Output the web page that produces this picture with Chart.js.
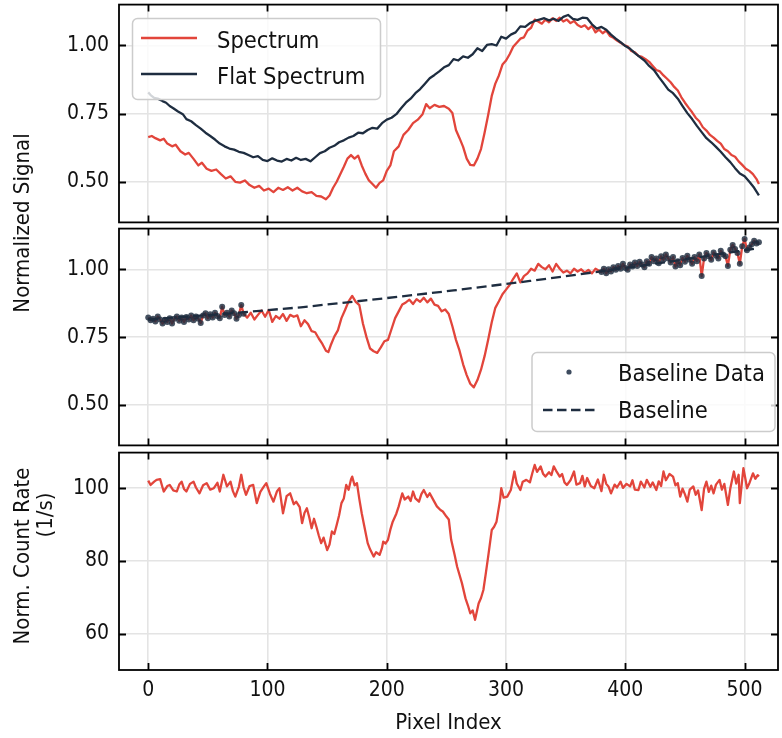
<!DOCTYPE html>
<html>
<head>
<meta charset="utf-8">
<script src="https://cdn.jsdelivr.net/npm/chart.js@4.4.0/dist/chart.umd.min.js"></script>
<style>
  body { margin: 0; width: 782px; height: 738px; position: relative; background: #fff; overflow: hidden; }
  canvas { position: absolute; left: 0; }
  svg { position: absolute; left: 0; top: 0; pointer-events: none; }
  svg text { font-family: 'DejaVu Sans Condensed', 'Open Sans', sans-serif; fill: #111; }
</style>
</head>
<body>
<canvas id="top" width="782" height="226" style="top:0px"></canvas>
<canvas id="mid" width="782" height="223" style="top:226px"></canvas>
<canvas id="bot" width="782" height="289" style="top:449px"></canvas>

<svg width="782" height="738">
  <!-- legend, top panel -->
  <rect x="132.5" y="18.5" width="248" height="81" rx="5" fill="rgba(255,255,255,0.8)" stroke="#cccccc" stroke-width="1.5"/>
  <line x1="141" y1="38" x2="197" y2="38" stroke="#e2453b" stroke-width="2.4"/>
  <line x1="141" y1="74" x2="197" y2="74" stroke="#1e2d40" stroke-width="2.4"/>
  <text x="217" y="47.5" font-size="23.5">Spectrum</text>
  <text x="217" y="84" font-size="23.5">Flat Spectrum</text>

  <!-- legend, middle panel -->
  <rect x="532" y="352.5" width="243" height="79" rx="5" fill="rgba(255,255,255,0.8)" stroke="#cccccc" stroke-width="1.5"/>
  <circle cx="569" cy="372" r="2.6" fill="#3d4b5e"/>
  <line x1="543" y1="410" x2="595" y2="410" stroke="#1e2d40" stroke-width="2.4" stroke-dasharray="9.5,4.5"/>
  <text x="618" y="381" font-size="23.5">Baseline Data</text>
  <text x="618" y="418" font-size="23.5">Baseline</text>

  <!-- axis titles -->
  <text transform="translate(29,223) rotate(-90)" text-anchor="middle" font-size="22">Normalized Signal</text>
  <text transform="translate(29,556) rotate(-90)" text-anchor="middle" font-size="22">Norm. Count Rate</text>
  <text transform="translate(52,515) rotate(-90)" text-anchor="middle" font-size="22">(1/s)</text>
  <text x="448.5" y="729" text-anchor="middle" font-size="22">Pixel Index</text>
</svg>

<script>
// tick labels
var xTicks = [0, 100, 200, 300, 400, 500];
var signalTicks = [0.5, 0.75, 1.0];
var countTicks = [60, 80, 100];

// top panel: Spectrum
var specX = [0,3,6,10,13,16,20,23,27,31,34,38,42,45,49,53,57,61,65,69,73,77,81,85,89,93,97,101,105,109,113,117,121,125,129,133,137,141,145,149,152,155,158,161,164,167,170,173,176,179,182,185,188,191,194,197,200,203,206,210,214,218,222,226,230,233,236,240,244,248,252,255,258,261,264,267,270,273,276,279,282,285,288,291,294,297,300,303,306,309,312,315,318,321,324,327,330,333,336,339,342,345,348,351,354,357,360,363,366,369,372,375,378,381,384,387,390,393,396,399,402,405,408,411,414,417,420,423,426,429,432,435,438,441,444,447,450,453,456,459,462,465,468,471,474,477,480,483,486,489,492,495,498,501,504,507,510,512];
var specY = [0.664,0.668,0.660,0.652,0.658,0.640,0.630,0.636,0.612,0.600,0.606,0.584,0.560,0.570,0.548,0.540,0.545,0.528,0.512,0.520,0.500,0.497,0.505,0.488,0.478,0.485,0.468,0.475,0.462,0.478,0.470,0.480,0.468,0.478,0.465,0.458,0.462,0.448,0.446,0.436,0.450,0.478,0.500,0.528,0.555,0.585,0.598,0.585,0.596,0.560,0.530,0.505,0.492,0.478,0.496,0.505,0.540,0.560,0.612,0.630,0.672,0.690,0.715,0.728,0.748,0.785,0.770,0.782,0.775,0.778,0.768,0.752,0.690,0.660,0.628,0.585,0.562,0.560,0.585,0.620,0.680,0.745,0.815,0.860,0.890,0.930,0.945,0.968,0.995,1.010,1.025,1.030,1.055,1.065,1.095,1.088,1.080,1.095,1.085,1.100,1.090,1.102,1.088,1.095,1.082,1.090,1.075,1.068,1.074,1.060,1.072,1.048,1.058,1.045,1.055,1.035,1.028,1.018,1.010,1.002,0.996,0.980,0.975,0.962,0.958,0.950,0.940,0.925,0.910,0.905,0.890,0.878,0.865,0.848,0.835,0.810,0.790,0.772,0.755,0.735,0.722,0.700,0.688,0.672,0.662,0.650,0.640,0.620,0.612,0.598,0.592,0.575,0.562,0.548,0.540,0.528,0.510,0.492];

// top panel: Flat Spectrum
var flatX = [0,2,5,8,12,15,18,21,25,29,32,36,40,44,48,52,56,60,64,68,72,76,80,84,88,92,96,100,104,108,112,116,120,124,128,132,136,140,144,148,152,156,160,164,168,172,176,180,184,188,192,196,200,204,208,212,216,220,224,228,232,236,240,244,248,252,256,260,264,268,272,276,280,284,288,292,296,300,304,308,312,316,320,324,328,332,336,340,344,348,352,356,360,364,368,372,376,380,384,388,392,396,400,404,408,412,416,420,424,428,432,436,440,444,448,452,456,460,464,468,472,476,480,484,488,492,496,500,504,508,512];
var flatY = [0.828,0.818,0.808,0.805,0.796,0.790,0.778,0.770,0.758,0.748,0.730,0.722,0.708,0.695,0.680,0.668,0.655,0.640,0.630,0.622,0.618,0.610,0.606,0.598,0.590,0.594,0.580,0.576,0.586,0.578,0.574,0.584,0.578,0.588,0.580,0.584,0.575,0.590,0.605,0.612,0.625,0.632,0.645,0.652,0.662,0.668,0.680,0.678,0.690,0.698,0.695,0.715,0.728,0.735,0.748,0.770,0.790,0.805,0.825,0.840,0.860,0.880,0.892,0.905,0.920,0.928,0.950,0.945,0.960,0.955,0.968,0.990,0.980,1.002,1.005,1.000,1.032,1.025,1.040,1.048,1.070,1.068,1.082,1.090,1.095,1.100,1.092,1.098,1.090,1.105,1.112,1.098,1.094,1.102,1.100,1.078,1.062,1.068,1.058,1.040,1.025,1.012,0.998,0.988,0.972,0.958,0.945,0.925,0.910,0.885,0.862,0.838,0.825,0.805,0.778,0.752,0.730,0.705,0.682,0.660,0.645,0.628,0.610,0.590,0.572,0.550,0.530,0.520,0.500,0.478,0.450];

// middle panel: ratio, split where the baseline points were taken
var leftX = [0,2,4,6,8,10,12,14,16,18,20,22,24,26,28,30,32,34,36,38,40,42,44,46,48,50,52,54,56,58,60,62,64,66,68,70,72,74,76,78,80];
var leftY = [0.822,0.812,0.818,0.808,0.826,0.815,0.800,0.814,0.806,0.820,0.800,0.818,0.826,0.810,0.822,0.806,0.824,0.815,0.830,0.812,0.826,0.818,0.802,0.830,0.838,0.820,0.834,0.822,0.840,0.828,0.820,0.862,0.832,0.840,0.826,0.848,0.838,0.818,0.832,0.868,0.836];
var midX = [83,86,89,92,95,98,101,104,107,110,113,116,119,122,125,128,131,134,137,140,143,146,149,151,153,156,159,162,165,168,171,174,177,180,183,186,189,192,195,198,201,204,207,210,213,216,219,222,225,228,231,234,237,240,243,246,249,252,255,258,261,264,267,270,273,276,279,282,285,288,291,294,297,300,303,306,309,312,315,318,321,324,327,330,333,336,339,342,345,348,351,354,357,360,363,366,369,372,375,378];
var midY = [0.822,0.840,0.815,0.832,0.848,0.825,0.850,0.806,0.828,0.818,0.835,0.810,0.832,0.825,0.830,0.790,0.812,0.798,0.772,0.768,0.745,0.725,0.700,0.695,0.720,0.752,0.775,0.820,0.850,0.882,0.902,0.880,0.868,0.800,0.750,0.708,0.698,0.692,0.712,0.735,0.740,0.780,0.820,0.845,0.870,0.878,0.888,0.872,0.890,0.880,0.895,0.878,0.892,0.870,0.865,0.845,0.852,0.835,0.790,0.740,0.700,0.650,0.610,0.578,0.565,0.592,0.630,0.680,0.740,0.805,0.858,0.882,0.908,0.925,0.942,0.965,0.985,0.952,0.975,0.985,1.002,0.995,1.020,1.008,1.000,1.015,0.992,1.020,1.002,0.988,0.995,0.985,1.002,0.992,1.000,0.988,0.998,0.985,1.002,0.995];
var rightX = [380,382,384,386,388,390,392,394,396,398,400,402,404,406,408,410,412,414,416,418,420,422,424,426,428,430,432,434,436,438,440,442,444,446,448,450,452,454,456,458,460,462,464,466,468,470,472,474,476,478,480,482,484,486,488,490,492,494,496,498,500,502,504,506,508,510,512];
var rightY = [0.990,1.002,0.985,1.000,0.992,1.008,0.998,1.012,1.002,1.020,1.005,0.998,1.018,1.010,1.025,1.012,1.028,1.018,1.008,1.030,1.020,1.045,1.030,1.040,1.022,1.048,1.035,1.055,1.040,1.025,1.045,1.010,1.030,1.015,1.042,1.028,1.050,1.035,1.020,1.045,1.030,1.055,0.975,1.040,1.060,1.048,1.035,1.062,1.050,1.040,1.068,1.055,1.048,1.012,1.072,1.090,1.075,1.060,1.020,1.085,1.112,1.070,1.080,1.092,1.105,1.095,1.100];

// middle panel: fitted baseline
var fitX = [0,64,128,192,256,320,384,448,512];
var fitY = [0.815,0.836,0.860,0.890,0.922,0.957,0.995,1.035,1.078];

// bottom panel: normalized count rate
var countX = [0,2,5,7,10,12,13,16,18,21,24,26,28,30,32,35,38,40,43,46,49,52,55,58,60,63,66,69,71,73,76,78,80,82,85,88,91,94,97,99,102,105,108,110,113,116,119,122,124,127,129,131,133,135,137,139,141,143,145,147,150,152,154,156,158,160,162,164,166,168,170,171,173,175,177,179,181,184,186,189,191,194,196,197,199,201,203,205,208,210,213,215,218,220,222,224,227,229,231,234,236,239,242,245,247,250,252,254,257,259,263,266,268,270,272,274,277,279,281,283,285,288,290,292,295,296,298,301,304,307,309,312,314,317,320,322,324,326,329,331,333,336,338,340,342,345,347,349,351,354,357,359,362,364,366,368,371,374,377,380,382,384,386,388,391,393,396,398,401,404,406,408,411,413,416,418,421,423,426,428,430,432,434,437,440,442,444,446,448,450,452,454,457,459,461,464,466,468,470,472,474,476,479,481,483,486,488,491,493,495,496,498,499,501,502,504,507,509,511,512];
var countY = [102.1,100.9,101.8,102.3,102.5,100.2,99.1,100.6,100.9,99.4,99.1,101.0,101.8,99.8,99.1,101.2,101.8,100.2,98.6,100.8,101.4,99.6,100.0,101.5,99.1,103.7,100.5,101.8,99.2,97.7,100.4,103.7,100.2,98.2,100.6,100.9,95.9,99.0,100.5,101.4,98.5,96.3,99.2,100.0,93.1,97.8,98.6,95.6,96.3,94.8,90.4,93.2,94.5,92.0,89.0,91.6,89.4,87.0,84.9,86.4,83.0,84.5,88.1,87.4,89.9,92.5,95.9,97.2,100.9,99.6,102.4,103.2,100.8,101.4,97.0,93.1,89.8,84.9,83.2,81.2,82.4,81.7,83.6,85.3,84.8,85.8,88.6,90.8,93.0,95.0,98.6,96.9,97.7,96.5,99.1,97.2,96.3,98.4,99.5,97.6,98.6,96.8,95.0,94.0,93.6,92.2,91.4,85.8,81.5,78.4,73.9,69.7,67.8,65.6,66.4,63.8,68.3,69.8,72.0,76.5,81.2,88.5,89.4,90.8,96.8,100.0,97.4,97.7,99.5,104.6,101.3,99.5,101.8,102.3,101.6,104.1,106.4,104.5,106.0,104.0,103.2,104.4,103.6,106.0,104.8,103.2,103.9,101.6,100.9,102.2,104.6,101.0,101.4,103.4,100.5,102.8,100.6,100.0,102.4,99.2,103.7,101.2,100.4,98.6,101.0,100.2,101.8,100.1,101.2,100.5,102.2,99.6,99.5,101.8,100.2,102.3,100.4,101.6,99.5,101.9,100.6,104.6,102.2,103.9,103.2,100.8,101.4,97.7,99.9,98.3,96.3,99.6,100.5,98.2,99.4,94.0,99.8,101.8,99.0,100.7,98.6,101.0,102.3,99.6,101.2,95.4,99.9,104.6,101.3,103.7,95.9,102.4,105.5,102.0,100.0,101.4,104.1,102.6,103.6,103.2];

var RED = '#e2453b';
var NAVY = '#1e2d40';

function pts(xs, ys) {
    return xs.map(function (x, i) { return {x: x, y: ys[i]}; });
}

Chart.defaults.font.family = "'DejaVu Sans Condensed', 'Open Sans', sans-serif";
Chart.defaults.font.size = 21;
Chart.defaults.color = '#111';

// black box round each panel with inward ticks on all four sides
var frame = {
    id: 'frame',
    afterDraw: function (chart) {
        var a = chart.chartArea, c = chart.ctx;
        var sx = chart.scales.x, sy = chart.scales.y;
        var len = 7;
        c.save();
        c.strokeStyle = '#000';
        c.lineWidth = 1.8;
        c.strokeRect(a.left, a.top, a.right - a.left, a.bottom - a.top);
        c.beginPath();
        xTicks.forEach(function (v) {
            var px = Math.round(sx.getPixelForValue(v)) + 0.5;
            c.moveTo(px, a.top); c.lineTo(px, a.top + len);
            c.moveTo(px, a.bottom); c.lineTo(px, a.bottom - len);
        });
        sy.ticks.forEach(function (t) {
            var py = Math.round(sy.getPixelForValue(t.value)) + 0.5;
            c.moveTo(a.left, py); c.lineTo(a.left + len, py);
            c.moveTo(a.right, py); c.lineTo(a.right - len, py);
        });
        c.stroke();
        c.restore();
    }
};

function makeChart(canvas, datasets, ymin, ymax, yTicks, fmt, xHeight) {
    return new Chart(canvas.getContext('2d'), {
        type: 'line',
        data: { datasets: datasets },
        options: {
            responsive: false,
            animation: false,
            parsing: false,
            layout: { padding: { top: 0, bottom: 0, left: 0, right: 4 }, autoPadding: false },
            elements: { point: { radius: 0 }, line: { tension: 0, borderWidth: 2.3, borderJoinStyle: 'round' } },
            plugins: { legend: { display: false }, tooltip: { enabled: false } },
            scales: {
                x: {
                    type: 'linear', min: -24.5, max: 528,
                    afterBuildTicks: function (s) { s.ticks = xTicks.map(function (v) { return {value: v}; }); },
                    afterFit: function (s) { s.height = xHeight; },
                    grid: { color: '#e4e4e4', lineWidth: 1.6, drawTicks: false },
                    border: { display: false },
                    ticks: { display: xHeight > 0, padding: 8, maxRotation: 0 }
                },
                y: {
                    min: ymin, max: ymax,
                    afterBuildTicks: function (s) { s.ticks = yTicks.map(function (v) { return {value: v}; }); },
                    afterFit: function (s) { s.width = 119; },
                    grid: { color: '#e4e4e4', lineWidth: 1.6, drawTicks: false },
                    border: { display: false },
                    ticks: { padding: 10, callback: fmt }
                }
            }
        },
        plugins: [frame]
    });
}

// wantTop / wantBottom: page rows where the plot box should sit
function panel(id, datasets, ymin, ymax, yTicks, fmt, xHeight, wantTop, wantBottom) {
    var canvas = document.getElementById(id);
    var probe = makeChart(canvas, datasets, ymin, ymax, yTicks, fmt, xHeight);
    var a = probe.chartArea;
    var extraTop = a.top, extraBottom = probe.height - a.bottom;
    probe.destroy();
    // second pass: canvas sized and placed so the plot box lands where it should
    canvas.height = Math.round(wantBottom - wantTop + extraTop + extraBottom);
    canvas.style.top = (wantTop - extraTop) + 'px';
    return makeChart(canvas, datasets, ymin, ymax, yTicks, fmt, xHeight);
}

function twoDec(v) { return v.toFixed(2); }
function noDec(v) { return String(v); }

panel('top', [
    { label: 'Flat Spectrum', data: pts(flatX, flatY), borderColor: NAVY, order: 1 },
    { label: 'Spectrum', data: pts(specX, specY), borderColor: RED, order: 2 }
], 0.351, 1.150, signalTicks, twoDec, 0, 5, 223);

panel('mid', [
    { label: 'Baseline Data', type: 'scatter', data: pts(leftX, leftY).concat(pts(rightX, rightY)),
      showLine: false, pointRadius: 3, pointBackgroundColor: 'rgba(30,45,64,0.82)', pointBorderWidth: 0, order: 1 },
    { label: 'Baseline', data: pts(fitX, fitY), borderColor: NAVY, borderDash: [10, 5], order: 2 },
    { label: 'Ratio', data: pts(leftX.concat(midX, rightX), leftY.concat(midY, rightY)), borderColor: RED, order: 3 }
], 0.351, 1.150, signalTicks, twoDec, 0, 229, 446);

panel('bot', [
    { label: 'Count Rate', data: pts(countX, countY), borderColor: RED, order: 1 }
], 50.0, 109.8, countTicks, noDec, 68, 453, 670);
</script>
</body>
</html>
